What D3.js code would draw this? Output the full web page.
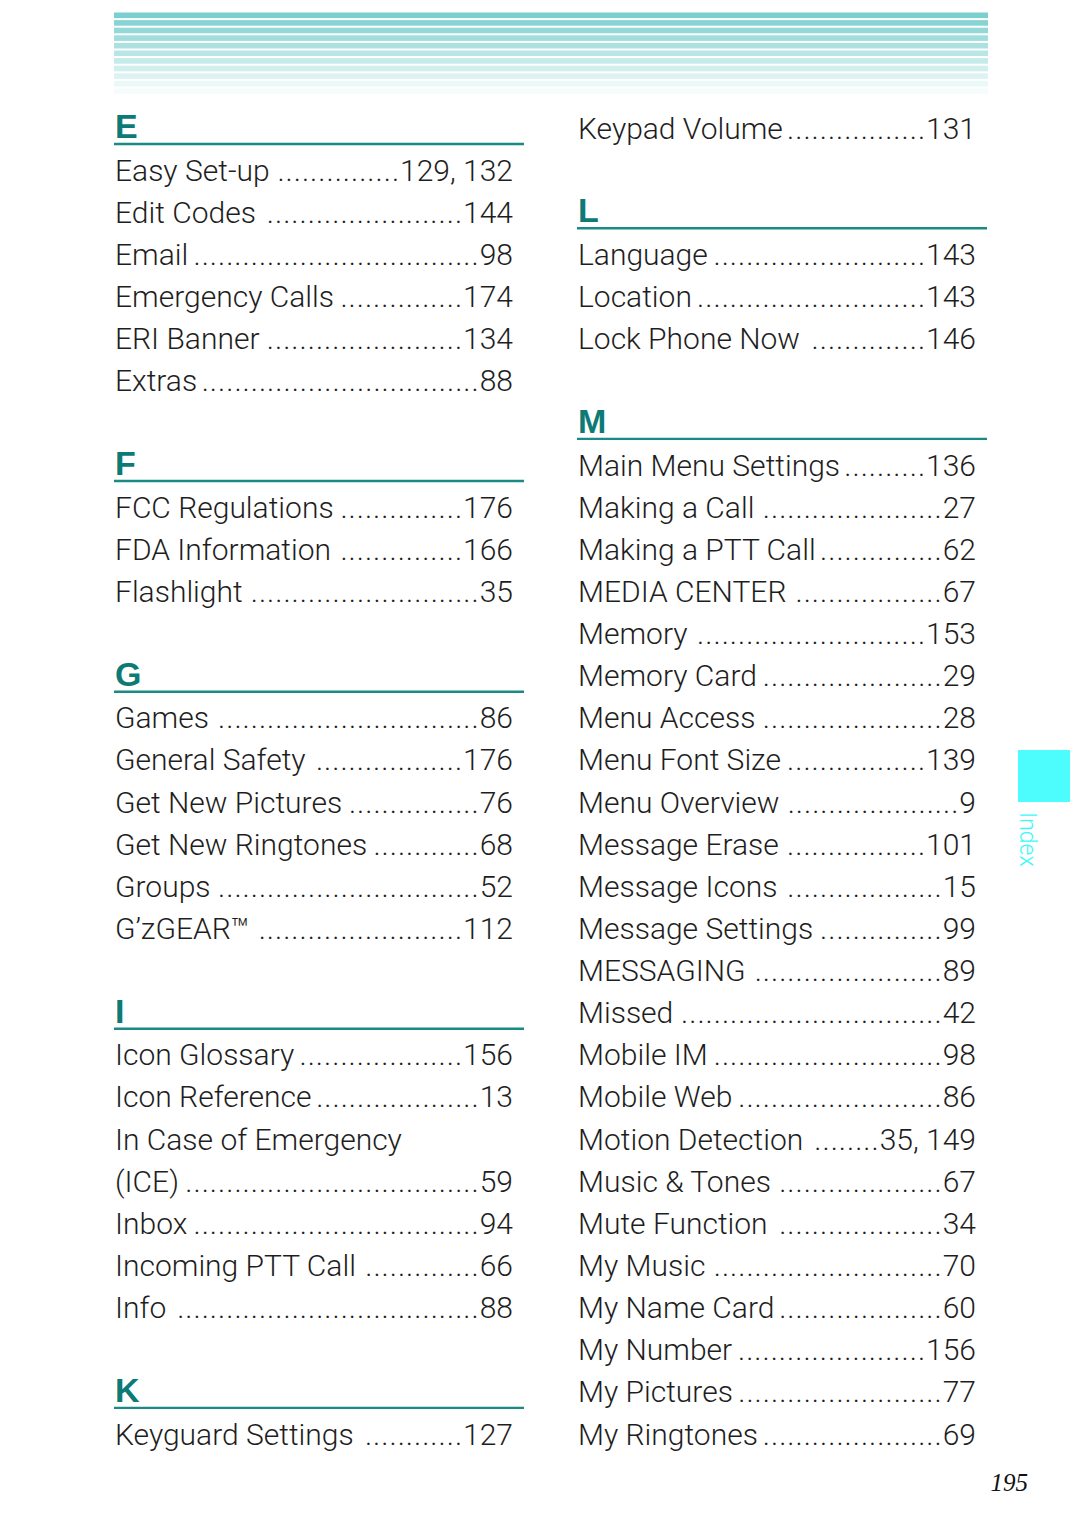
<!DOCTYPE html>
<html>
<head>
  <meta charset="utf-8">
  <title>Index 195</title>
  <script src="https://d3js.org/d3.v7.min.js"></script>
  <style>
    body{ margin:0; background:#fff; }
    .entry{ font-family:Roboto, "Liberation Sans", sans-serif; font-weight:300; font-size:30px; fill:#1e1e1e; }
    .dots{ letter-spacing:1px; }
    .letter{ font-family:"Liberation Sans", Arial, sans-serif; font-weight:bold; font-size:34px; fill:#0e7a75; }
    .tab-text{ font-family:Roboto, sans-serif; font-weight:300; font-size:23px; fill:#3ef8f8; }
    .folio{ font-family:"Liberation Serif", serif; font-style:italic; font-size:25px; fill:#111; }
  </style>
</head>
<body>
  <svg width="1080" height="1537" id="page"></svg>
  <script>
    // index entries, one small array per letter: [topic, pages]
    var entriesE = [
      ["Easy Set-up", "129, 132"], ["Edit Codes", "144"], ["Email", "98"],
      ["Emergency Calls", "174"], ["ERI Banner", "134"], ["Extras", "88"]
    ];
    var entriesF = [
      ["FCC Regulations", "176"], ["FDA Information", "166"], ["Flashlight", "35"]
    ];
    var entriesG = [
      ["Games", "86"], ["General Safety", "176"], ["Get New Pictures", "76"],
      ["Get New Ringtones", "68"], ["Groups", "52"], ["G\u2019zGEAR\u2122", "112"]
    ];
    var entriesI = [
      ["Icon Glossary", "156"], ["Icon Reference", "13"], ["In Case of Emergency", ""],
      ["(ICE)", "59"], ["Inbox", "94"], ["Incoming PTT Call", "66"], ["Info", "88"]
    ];
    var entriesK = [
      ["Keyguard Settings", "127"], ["Keypad Volume", "131"]
    ];
    var entriesL = [
      ["Language", "143"], ["Location", "143"], ["Lock Phone Now", "146"]
    ];
    var entriesM = [
      ["Main Menu Settings", "136"], ["Making a Call", "27"], ["Making a PTT Call", "62"],
      ["MEDIA CENTER", "67"], ["Memory", "153"], ["Memory Card", "29"],
      ["Menu Access", "28"], ["Menu Font Size", "139"], ["Menu Overview", "9"],
      ["Message Erase", "101"], ["Message Icons", "15"], ["Message Settings", "99"],
      ["MESSAGING", "89"], ["Missed", "42"], ["Mobile IM", "98"],
      ["Mobile Web", "86"], ["Motion Detection", "35, 149"], ["Music & Tones", "67"],
      ["Mute Function", "34"], ["My Music", "70"], ["My Name Card", "60"],
      ["My Number", "156"], ["My Pictures", "77"], ["My Ringtones", "69"]
    ];

    var pageNumber = "195";
    var tabLabel = "Index";

    // which sections go in which column (K continues at the top of column 2)
    var leftSections = [["E", entriesE], ["F", entriesF], ["G", entriesG], ["I", entriesI], ["K", entriesK.slice(0, 1)]];
    var rightSections = [[null, entriesK.slice(1)], ["L", entriesL], ["M", entriesM]];

    //turn sections into a list of rows: heading, entries, then a blank row
    function layoutRows(sections, col){
      var rows = [];
      var slot = 0;
      sections.forEach(function(s, i){
        if (i > 0) slot++; // blank line between sections
        if (s[0]){
          rows.push({type:'letter', text:s[0], slot:slot, col:col});
          slot++;
        }
        s[1].forEach(function(e){
          rows.push({type:'entry', text:e[0], page:e[1], slot:slot, col:col});
          slot++;
        });
      });
      return rows;
    }

    var rows = layoutRows(leftSections, 0).concat(layoutRows(rightSections, 1));

    var svg = d3.select('svg#page');
    var teal = "#1a8a85";

    var y = d3.scaleLinear().domain([0, 31]).range([127.5, 1433.5]);
    var x = d3.scaleOrdinal().domain([0, 1]).range([114, 577]);
    var colWidth = 410;
    var numRight = 399;

    //header stripes
    var stripes = d3.range(11);
    var stripeColor = d3.scaleLinear().domain([0, 10]).range(["#7bcfce", "#f6fcfc"]);
    svg.append('g').selectAll('rect')
      .data(stripes)
      .enter().append('rect')
      .attr('x', 114)
      .attr('y', function(d){ return 12.5 + d*7.6; })
      .attr('width', 874)
      .attr('height', 5.6)
      .attr('fill', function(d){ return stripeColor(d); });

    //letter headings with rules
    var letters = rows.filter(function(r){ return r.type == 'letter'; });
    var lg = svg.append('g');
    lg.selectAll('text')
      .data(letters)
      .enter().append('text')
      .attr('class', 'letter')
      .attr('x', function(d){ return x(d.col) + 1; })
      .attr('y', function(d){ return y(d.slot) + 10.5; })
      .text(function(d){ return d.text; });
    lg.selectAll('line')
      .data(letters)
      .enter().append('line')
      .attr('x1', function(d){ return x(d.col); })
      .attr('x2', function(d){ return x(d.col) + colWidth; })
      .attr('y1', function(d){ return y(d.slot) + 16.5; })
      .attr('y2', function(d){ return y(d.slot) + 16.5; })
      .style('stroke', teal)
      .style('stroke-width', 2.4);

    //entries: topic, leader dots, page numbers
    var entries = rows.filter(function(r){ return r.type == 'entry'; });
    var eg = svg.append('g').attr('class', 'entry');

    var probe = eg.append('text').attr('class', 'dots').text('..........');
    var dotW = probe.node().getComputedTextLength() / 10;
    probe.remove();

    entries.forEach(function(d){
      var base = y(d.slot) + 11;
      var label = eg.append('text')
        .attr('x', x(d.col) + 1)
        .attr('y', base)
        .text(d.text);
      if (!d.page) return;
      var num = eg.append('text')
        .attr('x', x(d.col) + numRight)
        .attr('y', base)
        .style('text-anchor', 'end')
        .text(d.page);
      var start = x(d.col) + 1 + label.node().getComputedTextLength() + 3;
      var end = x(d.col) + numRight - num.node().getComputedTextLength() - 1;
      var n = Math.floor((end - start) / dotW);
      if (n > 0){
        eg.append('text')
          .attr('class', 'dots')
          .attr('x', end + 1)
          .attr('y', base)
          .style('text-anchor', 'end')
          .text('.'.repeat(n));
      }
    });

    //side tab
    svg.append('rect')
      .attr('x', 1018)
      .attr('y', 750)
      .attr('width', 52)
      .attr('height', 52)
      .attr('fill', '#4dfdfd');
    svg.append('text')
      .attr('class', 'tab-text')
      .attr('transform', 'translate(1020,812) rotate(90)')
      .text(tabLabel);

    //page number
    svg.append('text')
      .attr('class', 'folio')
      .attr('x', 1028)
      .attr('y', 1491)
      .style('text-anchor', 'end')
      .text(pageNumber);
  </script>
</body>
</html>
